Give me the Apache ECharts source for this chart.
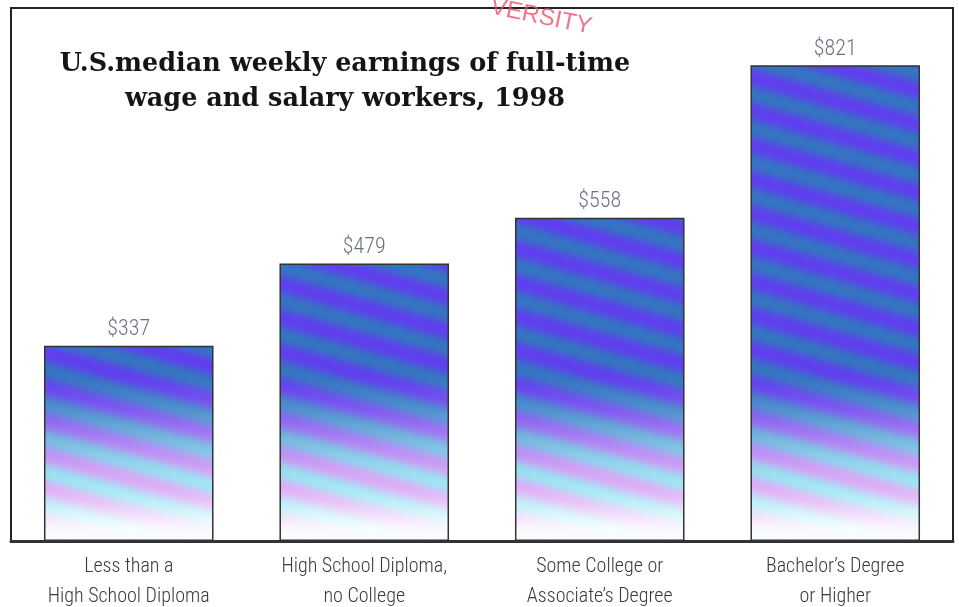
<!DOCTYPE html>
<html><head><meta charset="utf-8">
<script src="https://cdn.jsdelivr.net/npm/echarts@6/dist/echarts.min.js"></script>
<style>html,body{margin:0;padding:0;background:#fff}#c{width:959px;height:607px}</style>
</head><body><div id="c"></div>
<script>
const categories = ['Less than a\nHigh School Diploma', 'High School Diploma,\nno College', 'Some College or\nAssociate\u2019s Degree', 'Bachelor\u2019s Degree\nor Higher'];
const earnings = [337, 479, 558, 821];
const titleText = 'U.S.median weekly earnings of full-time\nwage and salary workers, 1998';
const watermark = 'VERSITY';

function smooth(a, b, v) { let t = Math.min(1, Math.max(0, (v - a) / (b - a))); return t * t * (3 - 2 * t); }

// Tall, horizontally repeating fill: soft diagonal violet/teal bands fading to pink/cyan/white near the baseline
function barFill(baseY) {
  const W = 120, H = 607;
  const c = document.createElement('canvas'); c.width = W; c.height = H;
  const ctx = c.getContext('2d');
  const img = ctx.createImageData(W, H);
  const tV = [106, 56, 242], tB = [70, 78, 232], tT = [44, 132, 176];
  const bV = [236, 160, 246], bB = [195, 205, 250], bT = [150, 244, 242];
  for (let y = 0; y < H; y++) {
    const f = smooth(baseY - 175, baseY - 45, y);
    const g = smooth(baseY - 60, baseY - 4, y);
    for (let x = 0; x < W; x++) {
      const p = y / 34 - x / W;
      const a = 0.5 + 0.5 * Math.cos(2 * Math.PI * p), b = 1 - a;
      const k = (y * W + x) * 4;
      for (let j = 0; j < 3; j++) {
        const top = 0.72 * (tV[j] * a + tT[j] * b) + 0.28 * tB[j];
        const bot = 0.72 * (bV[j] * a + bT[j] * b) + 0.28 * bB[j];
        let v = top * (1 - f) + bot * f;
        v = v * (1 - g * 0.93) + 255 * g * 0.93;
        img.data[k + j] = Math.round(v);
      }
      img.data[k + 3] = 255;
    }
  }
  ctx.putImageData(img, 0, 0);
  return c;
}

const chart = echarts.init(document.getElementById('c'));
const gridBottomPx = 607 - 66;

chart.setOption({
  backgroundColor: '#ffffff',
  animation: false,
  title: {
    text: titleText,
    left: 340, top: 42, textAlign: 'center',
    textStyle: { fontFamily: 'DejaVu Serif', fontWeight: 'bold', fontSize: 25.5, lineHeight: 35, color: '#151515' }
  },
  graphic: [{
    type: 'text', x: 589, y: 39, rotation: -0.2, z: 100,
    style: { text: watermark, textAlign: 'right', textVerticalAlign: 'bottom', font: '24px "Liberation Sans"', fill: 'rgba(240,80,110,0.8)' }
  }],
  grid: { left: 11, right: 6, top: 8, bottom: 66, show: true, borderColor: '#222', borderWidth: 2, outerBoundsMode: 'none', containLabel: false },
  xAxis: {
    type: 'category', data: categories,
    axisLine: { lineStyle: { color: '#333', width: 3 } },
    axisTick: { show: false },
    axisLabel: { interval: 0, margin: 11, fontSize: 20, lineHeight: 30, color: '#3a3a3a', fontWeight: 300, fontFamily: "'Roboto Condensed', 'Liberation Sans Narrow', Roboto" }
  },
  yAxis: { type: 'value', min: 0, max: 920, show: false, splitLine: { show: false } },
  series: [
    { type: 'bar', data: earnings, barWidth: '72%', silent: true,
      itemStyle: { color: { image: barFill(gridBottomPx), repeat: 'repeat-x' }, borderColor: '#333', borderWidth: 1.5 },
      label: { show: true, position: 'top', distance: 5, formatter: p => '$' + p.value, fontSize: 22, fontWeight: 300, color: '#6b7280', fontFamily: "'Roboto Condensed', 'Liberation Sans Narrow', Roboto" } }
  ]
});
</script></body></html>
